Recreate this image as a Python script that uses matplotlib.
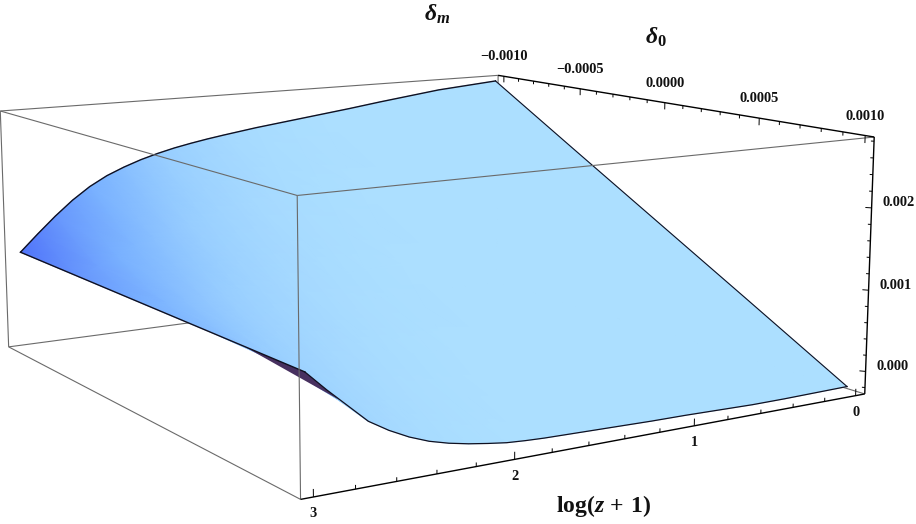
import matplotlib
matplotlib.use('Agg')
import numpy as np
import matplotlib.pyplot as plt
from matplotlib.colors import LinearSegmentedColormap

plt.rcParams['mathtext.fontset'] = 'custom'
plt.rcParams['mathtext.rm'] = 'Liberation Serif:bold'
plt.rcParams['mathtext.bf'] = 'Liberation Serif:bold'
plt.rcParams['mathtext.it'] = 'Liberation Serif:italic:bold'

# data, delta values in units of 1e-3
log_z = [0, .2, .4, .6, .8, 1, 1.2, 1.4, 1.6, 1.8, 1.9, 2, 2.1, 2.2, 2.3, 2.4, 2.5, 2.6, 2.7, 2.8, 2.9, 3]
delta_0 = [-1, -.5, 0, .5, 1]
dm_a = [2.79, 2.755, 2.72, 2.665, 2.61, 2.55, 2.495, 2.44, 2.385, 2.32, 2.285, 2.245, 2.2, 2.145, 2.08, 2.0, 1.905, 1.78, 1.62, 1.43, 1.22, 1.0]
dm_b = [2.04, 2.015, 1.99, 1.95, 1.91, 1.865, 1.825, 1.79, 1.75, 1.70, 1.68, 1.65, 1.625, 1.59, 1.555, 1.515, 1.47, 1.405, 1.32, 1.22, 1.11, 1.0]
dm_c = [1.295, 1.275, 1.255, 1.23, 1.205, 1.18, 1.155, 1.13, 1.11, 1.08, 1.07, 1.06, 1.05, 1.04, 1.03, 1.02, 1.02, 1.01, 1.0, 1.0, 1.0, 1.0]
dm_d = [.55, .535, .52, .51, .50, .495, .485, .48, .47, .465, .46, .465, .475, .49, .505, .53, .575, .63, .69, .79, .89, 1.0]
dm_e = [-.2, -.205, -.21, -.21, -.2, -.19, -.185, -.175, -.165, -.155, -.145, -.13, -.1, -.065, -.02, .04, .125, .235, .37, .575, .78, 1.0]

# surface lightness at the same grid points
shade_a = [1, 1, 1, 1, 1, 1, .99, .97, .94, .88, .83, .78, .72, .65, .58, .5, .42, .35, .27, .2, .1, 0]
shade_b = [1, 1, 1, 1, 1, 1, 1, .99, .97, .94, .91, .88, .83, .78, .72, .65, .58, .5, .42, .35, .27, .2]
shade_c = [1, 1, 1, 1, 1, 1, 1, 1, .99, .97, .95, .94, .91, .88, .83, .78, .72, .65, .58, .5, .42, .35]
shade_d = [1, 1, 1, 1, 1, 1, 1, 1, 1, .99, .98, .97, .95, .94, .91, .88, .83, .78, .72, .65, .58, .5]
shade_e = [1, 1, 1, 1, 1, 1, 1, 1, 1, 1, .995, .99, .98, .97, .95, .94, .91, .88, .83, .78, .72, .65]

# underside sliver near the far corner: z, delta_0, delta_m
sliver_z = [3, 3, 2.84]
sliver_d0 = [.65, 1, 1]
sliver_dm = [1.0, 1.0, .65]

z_major = [0, 1, 2, 3]
z_labels = ['0', '1', '2', '3']
d0_major = [-1, -.5, 0, .5, 1]
d0_labels = ['\u22120.0010', '\u22120.0005', '0.0000', '0.0005', '0.0010']
dm_major = [0, 1, 2]
dm_labels = ['0.000', '0.001', '0.002']

# box limits
z_lo, z_hi = -.06, 3.06
d_lo, d_hi = -1.04, 1.04
m_lo, m_hi = -.28, 2.85

# camera: fit a projective matrix from where the box corners land on the page
corners = [(z_hi, d_lo, m_hi, 1, 111), (z_lo, d_lo, m_hi, 497, 75), (z_lo, d_hi, m_hi, 875, 137),
           (z_hi, d_hi, m_hi, 297, 196), (z_hi, d_lo, m_lo, 8, 346), (z_lo, d_lo, m_lo, 498, 283),
           (z_lo, d_hi, m_lo, 864, 393), (z_hi, d_hi, m_lo, 300.7, 500)]
A = []
for X, Y, Z, u, v in corners:
    A.append([X, Y, Z, 1, 0, 0, 0, 0, -u*X, -u*Y, -u*Z, -u])
    A.append([0, 0, 0, 0, X, Y, Z, 1, -v*X, -v*Y, -v*Z, -v])
P = np.linalg.svd(np.array(A))[2][-1].reshape(3, 4)


def proj(z, d, m):
    z, d, m = np.broadcast_arrays(np.asarray(z, float), np.asarray(d, float), np.asarray(m, float))
    h = P @ np.stack([z.ravel(), d.ravel(), m.ravel(), np.ones(z.size)])
    return (h[0] / h[2]).reshape(z.shape), (h[1] / h[2]).reshape(z.shape)


fig = plt.figure(figsize=(9.16, 5.24), dpi=100)
ax = fig.add_axes([0, 0, 1, 1])

gray = '#6a6a6a'


def line3(p, q, color=gray, lw=0.8, zorder=1):
    x, y = proj([p[0], q[0]], [p[1], q[1]], [p[2], q[2]])
    ax.plot(x, y, color=color, lw=lw, zorder=zorder, solid_capstyle='butt')


# back edges, hidden by the surface
line3((z_hi, d_lo, m_hi), (z_lo, d_lo, m_hi))
line3((z_lo, d_lo, m_hi), (z_lo, d_lo, m_lo))
line3((z_hi, d_lo, m_lo), (z_lo, d_lo, m_lo))
line3((z_lo, d_lo, m_lo), (z_lo, d_hi, m_lo))
line3((z_hi, d_lo, m_hi), (z_hi, d_lo, m_lo))

# surface
cmap = LinearSegmentedColormap.from_list('surf', [(0, '#5073fa'), (.35, '#78b0ff'), (.65, '#97cdff'), (1, '#acdfff')])
Z2, D2 = np.meshgrid(log_z, delta_0)
M2 = np.vstack([dm_a, dm_b, dm_c, dm_d, dm_e])
S2 = np.vstack([shade_a, shade_b, shade_c, shade_d, shade_e])
X2, Y2 = proj(Z2, D2, M2)
ax.pcolormesh(X2, Y2, S2, shading='gouraud', cmap=cmap, vmin=0, vmax=1, zorder=2)

sx, sy = proj(sliver_z, sliver_d0, sliver_dm)
ax.fill(sx, sy, color='#47305f', lw=0, zorder=2.5)

# surface outline
ax.plot(X2[0], Y2[0], color='#101020', lw=1.0, zorder=3)
ax.plot(X2[-1], Y2[-1], color='#101020', lw=0.9, zorder=3)
ax.plot(X2[:, 0], Y2[:, 0], color='#101020', lw=0.8, zorder=3)
ax.plot(X2[:, -1], Y2[:, -1], color='#101020', lw=1.0, zorder=3)

# front box edges
line3((z_hi, d_lo, m_hi), (z_hi, d_hi, m_hi), zorder=4)
line3((z_hi, d_hi, m_hi), (z_lo, d_hi, m_hi), zorder=4)
line3((z_hi, d_hi, m_hi), (z_hi, d_hi, m_lo), zorder=4)
line3((z_hi, d_lo, m_lo), (z_hi, d_hi, m_lo), zorder=4)

# axes with ticks
line3((z_hi, d_hi, m_lo), (z_lo, d_hi, m_lo), color='k', lw=1.0, zorder=5)
line3((z_lo, d_lo, m_hi), (z_lo, d_hi, m_hi), color='k', lw=1.0, zorder=5)
line3((z_lo, d_hi, m_lo), (z_lo, d_hi, m_hi), color='k', lw=1.0, zorder=5)

for t in np.arange(0, 16):
    v = t * .2
    ln = .085 if t % 5 == 0 else .045
    line3((v, d_hi, m_lo), (v, d_hi, m_lo + ln), color='k', lw=0.7, zorder=5)
for t in np.arange(-10, 11):
    v = t * .1
    ln = .09 if t % 5 == 0 else .045
    line3((z_lo, v, m_hi), (z_lo, v, m_hi - ln), color='k', lw=0.7, zorder=5)
for t in np.arange(-1, 15):
    v = t * .2
    ln = 1.0 if t % 5 == 0 else .5
    line3((z_lo, d_hi, v), (z_lo + .017 * ln, d_hi - .016 * ln, v), color='k', lw=0.7, zorder=5)

# tick labels
tick_kw = dict(family='Liberation Serif', fontweight='bold', fontsize=10.4, ha='center', va='center', color='#111111')
for v, s in zip(z_major, z_labels):
    x, y = proj(v, d_hi, m_lo)
    ax.text(x, y + 17, s, **tick_kw)
for v, s in zip(d0_major, d0_labels):
    x, y = proj(z_lo, v, m_hi)
    ax.text(x, y - 19.5, s, **tick_kw)
for v, s in zip(dm_major, dm_labels):
    x, y = proj(z_lo, d_hi, v)
    ax.text(x + 27, y - 5, s, **tick_kw)

# axis labels
label_kw = dict(family='Liberation Serif', fontweight='bold', ha='center', va='center', color='#111111')
ax.text(437, 14, r'$\delta_m$', fontsize=17, **label_kw)
ax.text(656, 37, r'$\delta_{\mathrm{0}}$', fontsize=17, **label_kw)
ax.text(603, 506, r'$\mathrm{log}(z\,+\,\mathrm{1})$', fontsize=17, **label_kw)

ax.set_xlim(0, 916)
ax.set_ylim(524, 0)
ax.axis('off')

plt.savefig('out.png', dpi=100)
